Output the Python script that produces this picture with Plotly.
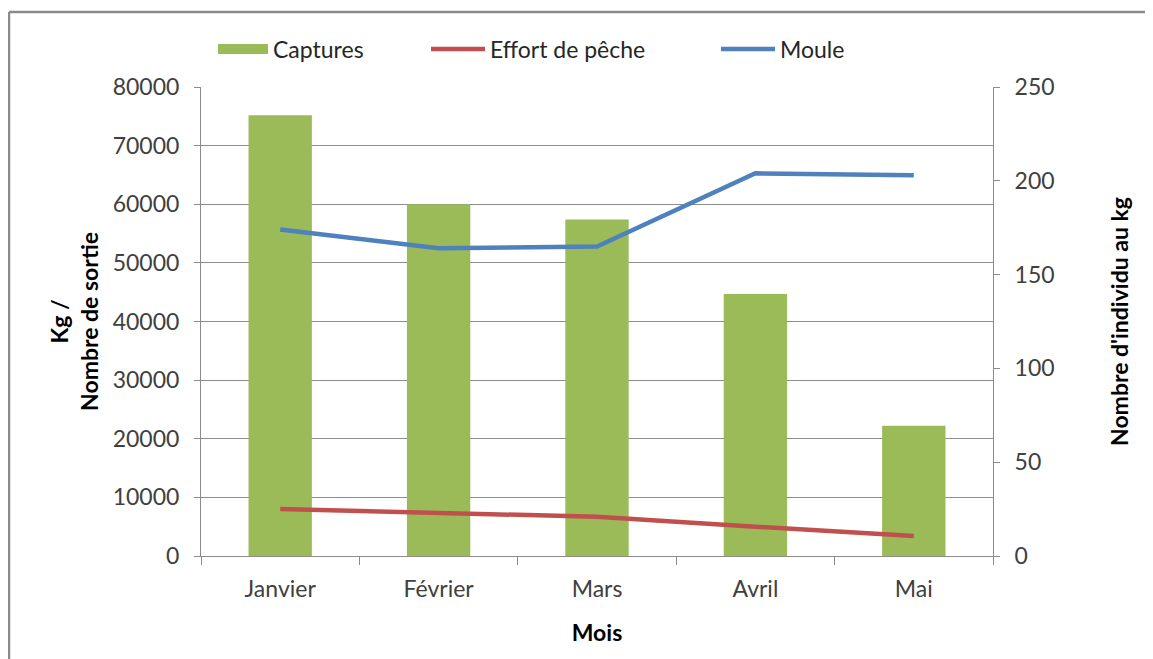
import plotly.graph_objects as go

mois = ["Janvier", "Février", "Mars", "Avril", "Mai"]
captures = [75200, 60000, 57400, 44700, 22200]
effort = [8000, 7300, 6700, 5000, 3400]
moule = [174, 164, 165, 204, 203]

FONT = "Lato"
GRID = "#8c8c8c"
TXT = "#404040"
GREEN, RED, BLUE = "#9BBB59", "#C0504D", "#4F81BD"

W, H = 1145, 651
L, R, T, B = 193, 160, 79, 103
PW, PH = W - L - R, H - T - B


def px_x(x):
    return (x - L) / PW


def px_y(y):
    return (H - B - y) / PH


fig = go.Figure()
fig.add_trace(go.Bar(x=mois, y=captures, name="Captures", showlegend=False,
                     marker=dict(color=GREEN, line=dict(width=0)), yaxis="y"))
# legend proxy for the bar series (wide patch like the original)
fig.add_trace(go.Scatter(x=[None], y=[None], name="Captures", mode="lines",
                         line=dict(color=GREEN, width=13), legend="legend"))
fig.add_trace(go.Scatter(x=mois, y=effort, name="Effort de pêche", mode="lines",
                         line=dict(color=RED, width=4.5), yaxis="y", legend="legend2"))
fig.add_trace(go.Scatter(x=mois, y=moule, name="Moule", mode="lines",
                         line=dict(color=BLUE, width=4.5), yaxis="y2", legend="legend3"))

leg_common = dict(orientation="h", yanchor="middle", y=px_y(41), xanchor="left",
                  font=dict(family=FONT, size=23, color="#262626"),
                  bgcolor="rgba(0,0,0,0)")

fig.update_layout(
    width=W, height=H,
    margin=dict(l=L, r=R, t=T, b=B, autoexpand=False),
    paper_bgcolor="white", plot_bgcolor="white",
    font=dict(family=FONT, size=23, color=TXT),
    bargap=0.6,
    showlegend=True,
    legend=dict(x=px_x(205), itemwidth=50, **leg_common),
    legend2=dict(x=px_x(418), itemwidth=54, **leg_common),
    legend3=dict(x=px_x(708), itemwidth=54, **leg_common),
    xaxis=dict(
        type="category", showline=True, linecolor=GRID, linewidth=1,
        ticks="outside", ticklen=8, tickcolor=GRID, tickson="boundaries",
        ticklabelstandoff=12,
        showgrid=False, tickfont=dict(size=23, color=TXT),
        title=dict(text="<b>Mois</b>", font=dict(size=23, color="black"), standoff=24),
    ),
    yaxis=dict(
        range=[0, 80000], dtick=10000, tickformat="d",
        showline=True, linecolor=GRID, linewidth=1,
        ticks="outside", ticklen=6, tickcolor=GRID, ticklabelstandoff=10,
        showgrid=True, gridcolor=GRID, gridwidth=1, zeroline=False,
        tickfont=dict(size=23, color=TXT),
        title=dict(text="<b>Kg /<br>Nombre de sortie</b>", font=dict(size=23, color="black"), standoff=7),
    ),
    yaxis2=dict(
        range=[0, 250], dtick=50, overlaying="y", side="right",
        showline=True, linecolor=GRID, linewidth=1,
        ticks="outside", ticklen=6, tickcolor=GRID, ticklabelstandoff=10,
        showgrid=False, zeroline=False,
        tickfont=dict(size=23, color=TXT),
        title=dict(text="<b>Nombre d'individu au kg</b>", font=dict(size=23, color="black"), standoff=58),
    ),
    shapes=[
        dict(type="line", xref="paper", yref="paper",
             x0=px_x(1), x1=px_x(W), y0=px_y(4), y1=px_y(4),
             line=dict(color="#8a8a8a", width=2.5)),
        dict(type="line", xref="paper", yref="paper",
             x0=px_x(1), x1=px_x(1), y0=px_y(4), y1=px_y(H),
             line=dict(color="#8a8a8a", width=2.5)),
    ],
)

fig.write_html("out.html")
